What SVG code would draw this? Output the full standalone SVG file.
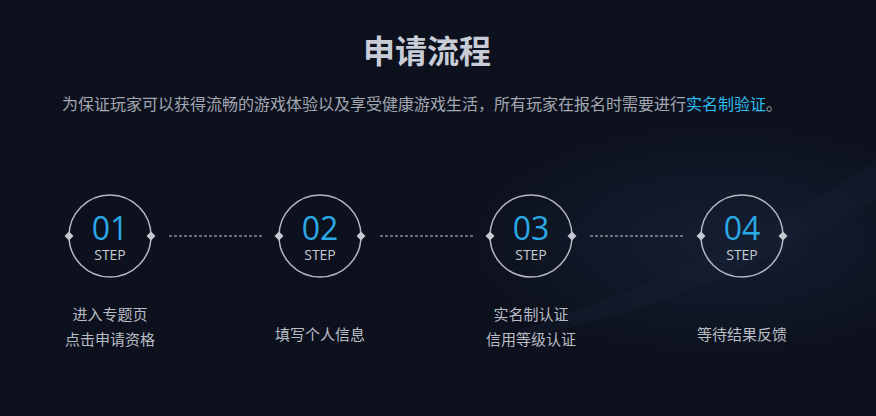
<svg xmlns="http://www.w3.org/2000/svg" width="876" height="416" viewBox="0 0 876 416">
<defs>
<style>
.ring{fill:none;stroke:#b4b8c2;stroke-width:1.5}
.dot{fill:#c4c8d0}
.num{font-family:"Open Sans","Noto Sans",sans-serif;font-size:32px;fill:#2aa8e6;text-anchor:middle}
.step{font-family:"Open Sans","Noto Sans",sans-serif;font-size:14px;fill:#c6cad2;text-anchor:middle}
.lbl{font-family:"Noto Sans CJK SC","Noto Sans",sans-serif;font-size:15px;fill:#b9bdc6;text-anchor:middle}
.dash{stroke:#c4c8d0;stroke-width:1;stroke-dasharray:3 2;fill:none}
</style>
<radialGradient id="glow" cx="0.5" cy="0.5" r="0.5">
<stop offset="0" stop-color="#1c2a44" stop-opacity="0.5"/>
<stop offset="1" stop-color="#1c2a44" stop-opacity="0"/>
</radialGradient>
<path id="d" d="M0,-4.5 L4.5,0 L0,4.5 L-4.5,0 Z"/>
</defs>
<rect width="876" height="416" fill="#0d111d"/>
<ellipse cx="720" cy="240" rx="260" ry="120" fill="url(#glow)"/>
<path d="M520,330 C640,290 760,240 876,160 L876,200 C760,270 650,310 520,340 Z" fill="#1a2a44" opacity="0.18"/>
<text x="427" y="63" font-family="'Noto Sans CJK SC','Noto Sans',sans-serif" font-size="32" font-weight="bold" fill="#c8ccd6" text-anchor="middle">申请流程</text>
<text x="62" y="110" font-family="'Noto Sans CJK SC','Noto Sans',sans-serif" font-size="16" fill="#a3a7b2">为保证玩家可以获得流畅的游戏体验以及享受健康游戏生活，所有玩家在报名时需要进行<tspan fill="#2dbdf0">实名制验证</tspan>。</text>
<g id="connectors">
<line class="dash" x1="169" y1="236" x2="264" y2="236"/>
<line class="dash" x1="380" y1="236" x2="475" y2="236"/>
<line class="dash" x1="590" y1="236" x2="685" y2="236"/>
</g>
<g id="step1">
<circle class="ring" cx="110" cy="236" r="41"/>
<use href="#d" class="dot" x="69" y="236"/>
<use href="#d" class="dot" x="151" y="236"/>
<text class="num" x="110" y="240">01</text>
<text class="step" x="110" y="260">STEP</text>
<text class="lbl" x="110" y="320">进入专题页</text>
<text class="lbl" x="110" y="345">点击申请资格</text>
</g>
<g id="step2">
<circle class="ring" cx="320" cy="236" r="41"/>
<use href="#d" class="dot" x="279" y="236"/>
<use href="#d" class="dot" x="361" y="236"/>
<text class="num" x="320" y="240">02</text>
<text class="step" x="320" y="260">STEP</text>
<text class="lbl" x="320" y="340">填写个人信息</text>
</g>
<g id="step3">
<circle class="ring" cx="531" cy="236" r="41"/>
<use href="#d" class="dot" x="490" y="236"/>
<use href="#d" class="dot" x="572" y="236"/>
<text class="num" x="531" y="240">03</text>
<text class="step" x="531" y="260">STEP</text>
<text class="lbl" x="531" y="320">实名制认证</text>
<text class="lbl" x="531" y="345">信用等级认证</text>
</g>
<g id="step4">
<circle class="ring" cx="742" cy="236" r="41"/>
<use href="#d" class="dot" x="701" y="236"/>
<use href="#d" class="dot" x="783" y="236"/>
<text class="num" x="742" y="240">04</text>
<text class="step" x="742" y="260">STEP</text>
<text class="lbl" x="742" y="340">等待结果反馈</text>
</g>
</svg>
